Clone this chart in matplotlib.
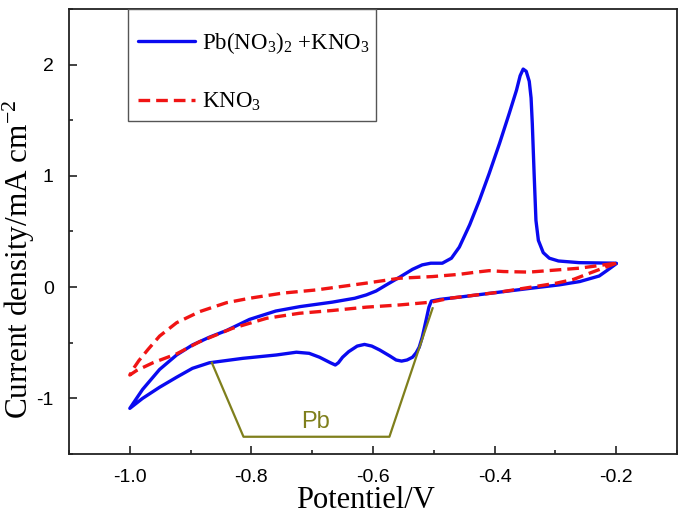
import matplotlib
matplotlib.use("Agg")
import matplotlib.pyplot as plt
from matplotlib.ticker import MultipleLocator, FormatStrFormatter
from matplotlib.patches import Rectangle

plt.rcParams['axes.unicode_minus'] = False
plt.rcParams['mathtext.fontset'] = 'custom'
plt.rcParams['mathtext.rm'] = 'Liberation Serif'
plt.rcParams['mathtext.it'] = 'Liberation Serif:italic'
plt.rcParams['mathtext.bf'] = 'Liberation Serif:bold'

# ---- data (potential V, current density mA cm^-2) ----
blue_v = [-0.200, -0.215, -0.228, -0.260, -0.294, -0.340, -0.392, -0.458, -0.490, -0.504,
          -0.508, -0.512, -0.519, -0.524, -0.529, -0.535, -0.544, -0.553, -0.562, -0.572,
          -0.589, -0.602, -0.614, -0.626, -0.640, -0.650, -0.657, -0.662, -0.670, -0.688,
          -0.705, -0.726, -0.759, -0.814, -0.869, -0.897, -0.923, -0.951, -0.979, -1.000,
          -0.979, -0.951, -0.923, -0.897, -0.869, -0.841, -0.803, -0.760, -0.720, -0.667,
          -0.630, -0.611, -0.595, -0.575, -0.556, -0.535, -0.519, -0.505, -0.486, -0.471,
          -0.458, -0.441, -0.425, -0.409, -0.392, -0.376, -0.364, -0.358, -0.353, -0.348,
          -0.343, -0.340, -0.338, -0.335, -0.332, -0.328, -0.320, -0.310, -0.295, -0.261,
          -0.200]
blue_j = [0.21, 0.15, 0.10, 0.05, 0.02, -0.01, -0.045, -0.09, -0.11, -0.125,
          -0.18, -0.28, -0.45, -0.54, -0.59, -0.63, -0.655, -0.665, -0.655, -0.62,
          -0.565, -0.53, -0.515, -0.53, -0.58, -0.63, -0.68, -0.70, -0.68, -0.63,
          -0.595, -0.585, -0.61, -0.64, -0.68, -0.73, -0.81, -0.90, -1.00, -1.09,
          -0.92, -0.74, -0.61, -0.52, -0.45, -0.39, -0.29, -0.215, -0.175, -0.135,
          -0.10, -0.07, -0.035, 0.03, 0.09, 0.16, 0.20, 0.215, 0.215, 0.26,
          0.36, 0.56, 0.78, 1.02, 1.29, 1.56, 1.77, 1.90, 1.96, 1.94,
          1.85, 1.70, 1.47, 1.02, 0.60, 0.42, 0.31, 0.26, 0.235, 0.22,
          0.215]

red_v = [-0.200, -0.222, -0.244, -0.270, -0.299, -0.392, -0.474, -0.504, -0.556, -0.611,
         -0.667, -0.721, -0.775, -0.831, -0.885, -0.923, -0.962, -0.989, -1.000,
         -0.995, -0.985, -0.970, -0.951, -0.923, -0.885, -0.841, -0.803, -0.749, -0.693,
         -0.611, -0.556, -0.502, -0.458, -0.430, -0.409, -0.385, -0.343, -0.261, -0.200]
red_j = [0.215, 0.17, 0.125, 0.07, 0.035, -0.045, -0.10, -0.135, -0.16, -0.18,
         -0.21, -0.235, -0.28, -0.37, -0.49, -0.60, -0.68, -0.75, -0.79,
         -0.74, -0.66, -0.56, -0.44, -0.32, -0.22, -0.14, -0.10, -0.054, -0.025,
         0.036, 0.08, 0.095, 0.115, 0.135, 0.148, 0.14, 0.135, 0.17, 0.215]

bracket_v = [-0.865, -0.813, -0.573, -0.502]
bracket_j = [-0.68, -1.345, -1.345, -0.19]
bracket_label = "Pb"

series_labels = [r'Pb(NO$_3$)$_2$ +KNO$_3$', r'KNO$_3$']
x_ticks = [-1.0, -0.8, -0.6, -0.4, -0.2]
y_ticks = [-1, 0, 1, 2]

fig = plt.figure(figsize=(6.85, 5.19), dpi=100)
ax = fig.add_axes([69/685, 1 - 454/519, (677-69)/685, (454-9)/519])

ax.plot(blue_v, blue_j, color='#0a0af0', lw=2.4, solid_joinstyle='round',
        solid_capstyle='round', label=series_labels[0], zorder=3)
ax.plot(red_v, red_j, color='#f01414', lw=2.4, dashes=(3.5, 1.8),
        label=series_labels[1], zorder=4)
ax.plot(bracket_v, bracket_j, color='#7f7f1c', lw=1.6, zorder=5)
ax.text(-0.694, -1.27, bracket_label, color='#7f7f1c', fontsize=17,
        family='Liberation Sans', ha='center', va='baseline')

ax.set_xlim(-1.1, -0.1)
ax.set_ylim(-1.5, 2.5)
ax.set_xticks(x_ticks)
ax.set_yticks(y_ticks)
ax.xaxis.set_minor_locator(MultipleLocator(0.1))
ax.yaxis.set_minor_locator(MultipleLocator(0.5))
ax.xaxis.set_major_formatter(FormatStrFormatter('%.1f'))
ax.yaxis.set_major_formatter(FormatStrFormatter('%d'))
ax.tick_params(which='both', direction='in', top=False, right=False,
               labelsize=14, width=1.2, colors='#222222', labelcolor='black')
ax.tick_params(which='major', length=6)
ax.tick_params(which='minor', length=3)
ax.tick_params(axis='x', which='major', pad=11)
ax.tick_params(axis='y', which='major', pad=11)
for lab in ax.get_xticklabels() + ax.get_yticklabels():
    lab.set_family('Liberation Sans')
for s in ax.spines.values():
    s.set_linewidth(1.3)
    s.set_color('#222222')

ax.set_xlabel('Potentiel/V', family='Liberation Serif', fontsize=22)
ax.set_ylabel(r'Current density/mA cm$^{-2}$', family='Liberation Serif', fontsize=22.5)
ax.xaxis.set_label_coords(0.488, -0.072)
ax.yaxis.set_label_coords(-0.052, 0.438)

# legend box
ax.add_patch(Rectangle((0.097, 0.748), 0.408, 0.252, transform=ax.transAxes,
                       facecolor='white', edgecolor='#555555', lw=1.0, zorder=6))
leg = ax.legend(loc='upper left', bbox_to_anchor=(0.1135, 0.952), borderaxespad=0,
                prop={'family': 'Liberation Serif', 'size': 16.5}, frameon=False,
                handlelength=2.5, handletextpad=0.3, labelspacing=1.5, borderpad=0)
leg.set_zorder(7)

fig.savefig('out.png', dpi=100)
